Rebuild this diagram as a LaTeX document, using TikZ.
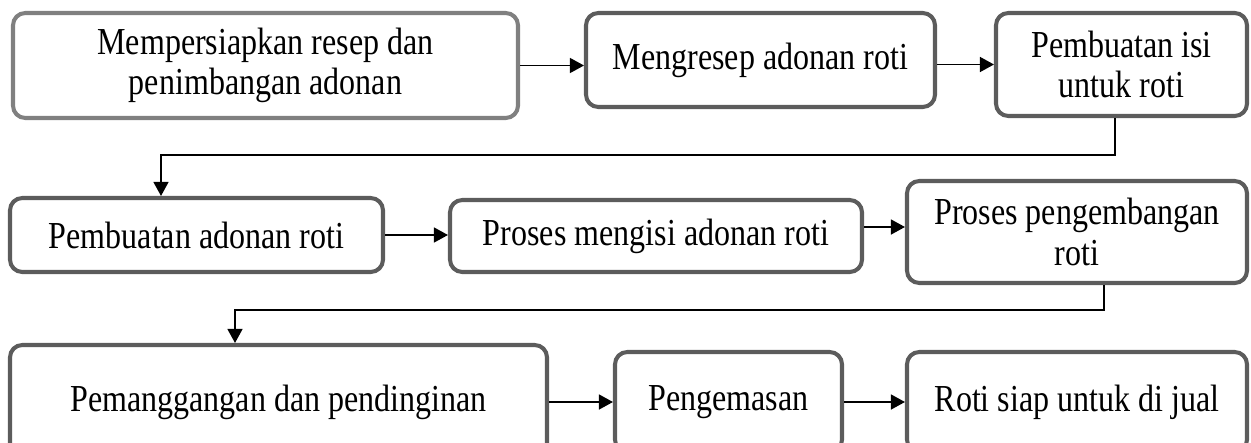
\documentclass[tikz,border=0pt]{standalone}
\usepackage{fontspec}
\setmainfont{Liberation Serif}[FakeStretch=0.84]
\usetikzlibrary{arrows.meta}
\definecolor{abuterang}{HTML}{808080}
\definecolor{abugelap}{HTML}{5C5C5C}
\begin{document}
\begin{tikzpicture}
[kotak/.style={draw=abugelap, line width=2.3pt, rounded corners=7pt, fill=white, align=center, inner sep=0pt, font=\fontsize{21.7}{23}\selectfont},
panah/.style={draw=black, line width=1pt, -{Triangle[length=8pt,width=8.5pt]}}]
\useasboundingbox (0,0) rectangle (25.02,-8.86);
% baris pertama
\node [kotak, draw=abuterang, minimum width=10.1cm, minimum height=2.1cm] (siap) at (5.31,-1.31) {Mempersiapkan resep dan\\penimbangan adonan};
\node [kotak, minimum width=6.98cm, minimum height=1.88cm] (resep) at (15.21,-1.2) {Mengresep adonan roti};
\node [kotak, minimum width=5.02cm, minimum height=2.06cm] (isi) at (22.43,-1.29) {Pembuatan isi\\untuk roti};
% baris kedua
\node [kotak, minimum width=7.46cm, minimum height=1.48cm] (adonan) at (3.93,-4.7) {Pembuatan adonan roti};
\node [kotak, minimum width=8.24cm, minimum height=1.44cm] (mengisi) at (13.12,-4.72) {Proses mengisi adonan roti};
\node [kotak, minimum width=6.8cm, minimum height=2.04cm] (kembang) at (21.54,-4.64) {Proses pengembangan\\roti};
% baris ketiga
\node [kotak, minimum width=10.74cm, minimum height=2.28cm] (panggang) at (5.57,-8.04) {Pemanggangan dan pendinginan};
\node [kotak, minimum width=4.54cm, minimum height=2cm] (kemas) at (14.57,-8.04) {Pengemasan};
\node [kotak, minimum width=6.8cm, minimum height=2cm] (jual) at (21.54,-8.04) {Roti siap untuk di jual};
\coordinate (belok1) at (3.22,-3.1);
\coordinate (belok2) at (4.7,-6.2);
% panah
\draw [panah] (siap.east) -- (siap.east -| resep.west);
\draw [panah] (isi.west -| resep.east) -- (isi.west);
\draw [panah] ([xshift=-1.3mm]isi.south) |- (belok1) -- (belok1 |- adonan.north);
\draw [panah] (adonan.east) -- (adonan.east -| mengisi.west);
\draw [panah] ([yshift=1mm]kembang.west -| mengisi.east) -- ([yshift=1mm]kembang.west);
\draw [panah] ([xshift=5.4mm]kembang.south) |- (belok2) -- (belok2 |- panggang.north);
\draw [panah] (panggang.east) -- (panggang.east -| kemas.west);
\draw [panah] (kemas.east) -- (jual.west);
\end{tikzpicture}
\end{document}
